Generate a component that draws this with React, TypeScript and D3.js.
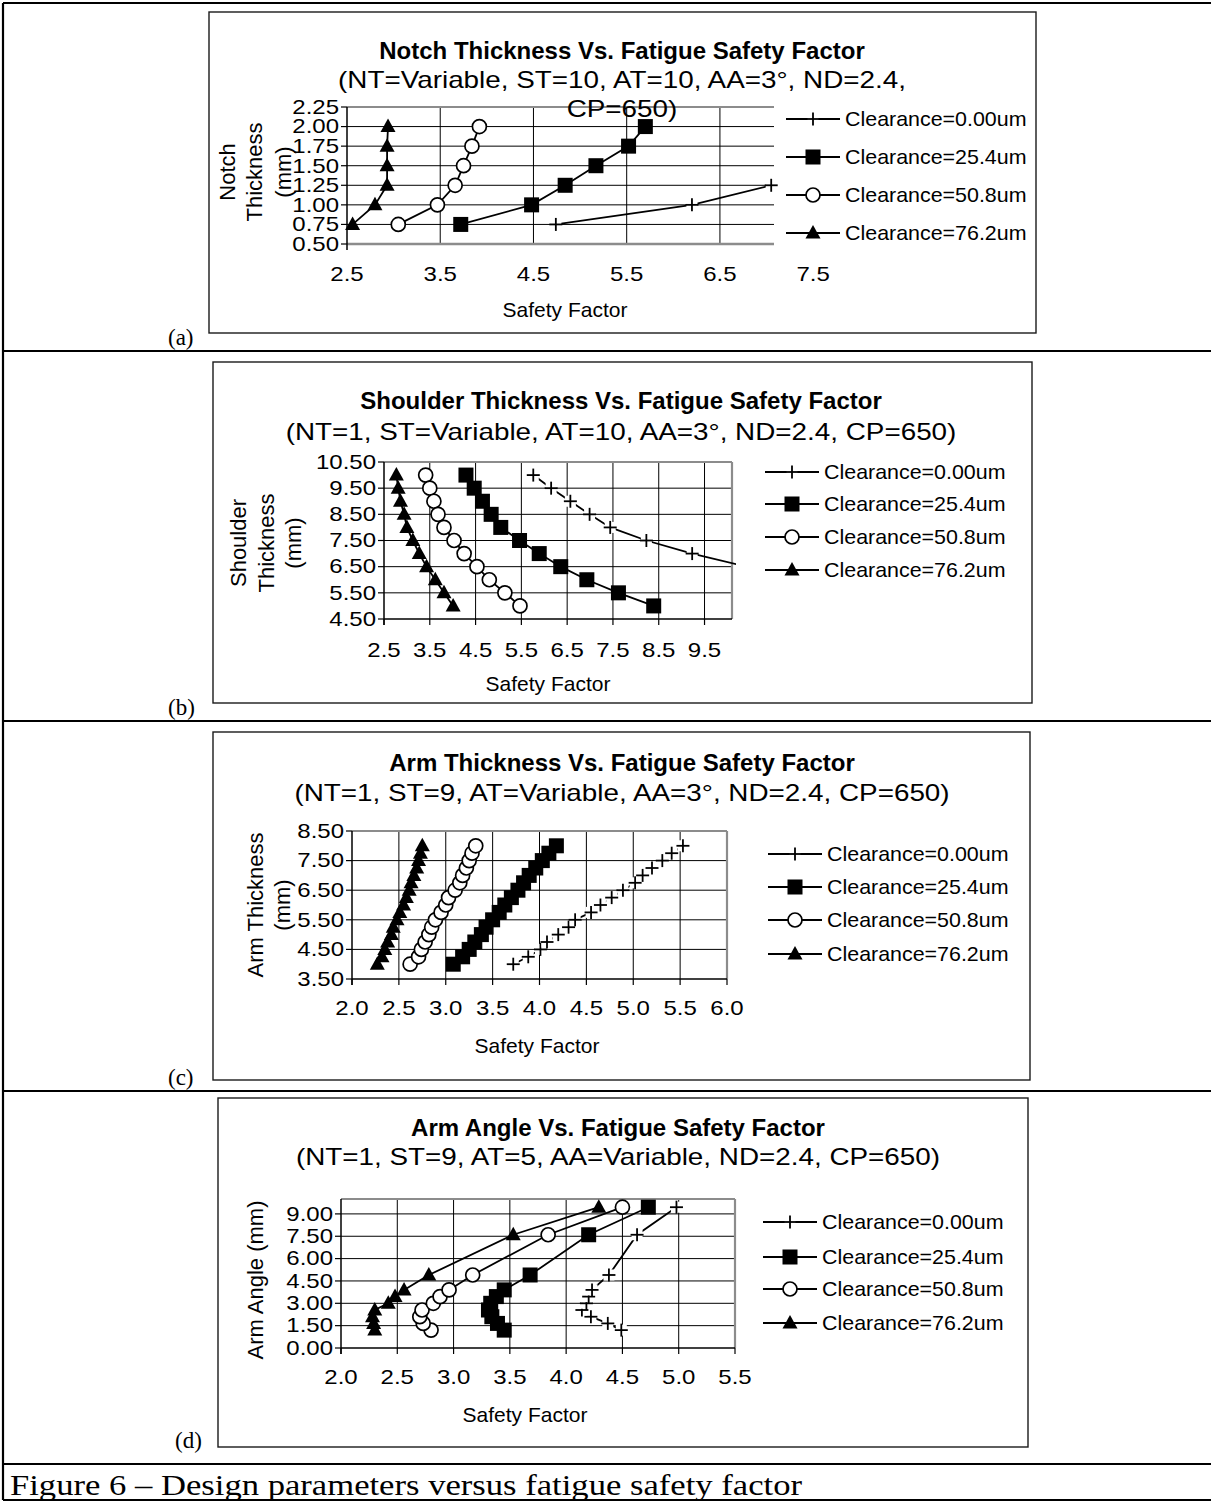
import React from 'react';
import * as d3 from 'd3';

// ---------- shared ----------
const seriesNames = ['Clearance=0.00um', 'Clearance=25.4um', 'Clearance=50.8um', 'Clearance=76.2um'];
const markerKinds = ['plus', 'square', 'circle', 'triangle'];
const panelLetters = ['(a)', '(b)', '(c)', '(d)'];
const captionText = 'Figure 6 \u2013 Design parameters versus fatigue safety factor';

// ---------- (a) Notch thickness ----------
const notchTitle = 'Notch Thickness Vs. Fatigue Safety Factor';
const notchSubtitle = ['(NT=Variable, ST=10, AT=10, AA=3\u00b0, ND=2.4,', 'CP=650)'];
const notchYLabel = ['Notch', 'Thickness', '(mm)'];
const notchThick = [0.75, 1.0, 1.25, 1.5, 1.75, 2.0];
const notchThick000 = [0.75, 1.0, 1.25];
const notchSF000 = [4.74, 6.2, 7.05];
const notchSF254 = [3.72, 4.48, 4.84, 5.17, 5.52, 5.7];
const notchSF508 = [3.05, 3.47, 3.66, 3.75, 3.84, 3.92];
const notchSF762 = [2.56, 2.8, 2.93, 2.93, 2.93, 2.94];
const notchXTicks = [2.5, 3.5, 4.5, 5.5, 6.5, 7.5];
const notchYTicks = [0.5, 0.75, 1.0, 1.25, 1.5, 1.75, 2.0, 2.25];

// ---------- (b) Shoulder thickness ----------
const shoulderTitle = 'Shoulder Thickness Vs. Fatigue Safety Factor';
const shoulderSubtitle = ['(NT=1, ST=Variable, AT=10, AA=3\u00b0, ND=2.4, CP=650)'];
const shoulderYLabel = ['Shoulder', 'Thickness', '(mm)'];
const shoulderThick = [10, 9.5, 9, 8.5, 8, 7.5, 7, 6.5, 6, 5.5, 5];
const shoulderThick000 = [10, 9.5, 9, 8.5, 8, 7.5, 7, 6.5];
const shoulderSF000 = [5.76, 6.15, 6.57, 6.99, 7.44, 8.23, 9.23, 10.42];
const shoulderSF254 = [4.29, 4.47, 4.65, 4.84, 5.05, 5.46, 5.89, 6.36, 6.93, 7.62, 8.39];
const shoulderSF508 = [3.41, 3.5, 3.59, 3.68, 3.81, 4.03, 4.25, 4.53, 4.8, 5.14, 5.47];
const shoulderSF762 = [2.77, 2.81, 2.86, 2.94, 3.0, 3.13, 3.27, 3.43, 3.62, 3.81, 4.01];
const shoulderXTicks = [2.5, 3.5, 4.5, 5.5, 6.5, 7.5, 8.5, 9.5];
const shoulderYTicks = [4.5, 5.5, 6.5, 7.5, 8.5, 9.5, 10.5];

// ---------- (c) Arm thickness ----------
const armTitle = 'Arm Thickness Vs. Fatigue Safety Factor';
const armSubtitle = ['(NT=1, ST=9, AT=Variable, AA=3\u00b0, ND=2.4, CP=650)'];
const armYLabel = ['Arm Thickness', '(mm)'];
const armThick = [4.0, 4.25, 4.5, 4.75, 5.0, 5.25, 5.5, 5.75, 6.0, 6.25, 6.5, 6.75, 7.0, 7.25, 7.5, 7.75, 8.0];
const armSF000 = [3.72, 3.88, 4.01, 4.08, 4.2, 4.31, 4.38, 4.55, 4.65, 4.77, 4.89, 5.02, 5.1, 5.2, 5.31, 5.41, 5.53];
const armSF254 = [3.08, 3.18, 3.25, 3.31, 3.38, 3.43, 3.5, 3.57, 3.63, 3.7, 3.77, 3.83, 3.89, 3.96, 4.03, 4.1, 4.18];
const armSF508 = [2.62, 2.71, 2.74, 2.78, 2.82, 2.85, 2.89, 2.95, 3.0, 3.03, 3.1, 3.15, 3.18, 3.22, 3.25, 3.28, 3.32];
const armSF762 = [2.27, 2.32, 2.35, 2.38, 2.42, 2.44, 2.48, 2.51, 2.55, 2.58, 2.61, 2.63, 2.66, 2.69, 2.71, 2.73, 2.75];
const armXTicks = [2.0, 2.5, 3.0, 3.5, 4.0, 4.5, 5.0, 5.5, 6.0];
const armYTicks = [3.5, 4.5, 5.5, 6.5, 7.5, 8.5];

// ---------- (d) Arm angle ----------
const angleTitle = 'Arm Angle Vs. Fatigue Safety Factor';
const angleSubtitle = ['(NT=1, ST=9, AT=5, AA=Variable, ND=2.4, CP=650)'];
const angleYLabel = ['Arm Angle (mm)'];
const angleVal = [1.2, 1.65, 2.1, 2.55, 3.0, 3.45, 3.9, 4.9, 7.6, 9.45];
const angleSF000 = [4.49, 4.37, 4.22, 4.14, 4.18, 4.2, 4.23, 4.38, 4.63, 4.98];
const angleSF254 = [3.45, 3.39, 3.34, 3.31, 3.33, 3.38, 3.45, 3.68, 4.2, 4.73];
const angleSF508 = [2.8, 2.73, 2.7, 2.72, 2.82, 2.88, 2.96, 3.17, 3.84, 4.5];
const angleSF762 = [2.3, 2.29, 2.28, 2.3, 2.42, 2.48, 2.56, 2.78, 3.53, 4.29];
const angleXTicks = [2.0, 2.5, 3.0, 3.5, 4.0, 4.5, 5.0, 5.5];
const angleYTicks = [0, 1.5, 3.0, 4.5, 6.0, 7.5, 9.0];

const SANS = "'Liberation Sans', Arial, Helvetica, sans-serif";
const SERIF = "'Liberation Serif', 'Times New Roman', serif";

function T({
  x,
  y,
  size,
  sx = 1,
  anchor = 'start',
  weight = 'normal',
  rotate = 0,
  family = SANS,
  children,
}: {
  x: number;
  y: number;
  size: number;
  sx?: number;
  anchor?: string;
  weight?: string;
  rotate?: number;
  family?: string;
  children: React.ReactNode;
}) {
  return (
    <text
      transform={`translate(${x},${y}) rotate(${rotate}) scale(${sx},1)`}
      fontSize={size}
      fontFamily={family}
      fontWeight={weight}
      textAnchor={anchor}
      dominantBaseline="central"
      fill="#000"
    >
      {children}
    </text>
  );
}

function Marker({ kind, x, y }: { kind: string; x: number; y: number }) {
  if (kind === 'plus') {
    return (
      <g transform={`translate(${x},${y})`}>
        <rect x={-5.5} y={-5.5} width={11} height={11} fill="#fff" />
        <line x1={-6.5} x2={6.5} y1={0} y2={0} stroke="#000" strokeWidth={1.8} />
        <line x1={0} x2={0} y1={-6.5} y2={6.5} stroke="#000" strokeWidth={1.8} />
      </g>
    );
  }
  if (kind === 'square') {
    return <rect x={x - 7.5} y={y - 7.5} width={15} height={15} fill="#000" />;
  }
  if (kind === 'circle') {
    return <circle cx={x} cy={y} r={7} fill="#fff" stroke="#000" strokeWidth={1.7} />;
  }
  return <path d={`M${x},${y - 8}L${x + 7.5},${y + 5.5}L${x - 7.5},${y + 5.5}Z`} fill="#000" />;
}

type ChartSpec = {
  id: string;
  box: [number, number, number, number];
  plot: { l: number; r: number; t: number; b: number };
  xDomain: [number, number];
  yDomain: [number, number];
  xTicks: number[];
  yTicks: number[];
  series: { xs: number[]; ys: number[] }[];
  title: string;
  titleY: number;
  titleX: number;
  subtitle: string[];
  subtitleY: number[];
  yLabel: string[];
  yLabelX: number[];
  yLabelCY: number;
  xTitleX: number;
  xTitleY: number;
  xLabelY: number;
  legendX: number;
  legendY: number[];
  grayBottom: boolean;
  rightBorder: boolean;
  xTickMarks: boolean;
};

const f1 = d3.format('.1f');
const f2 = d3.format('.2f');

function Chart({ s }: { s: ChartSpec }) {
  const x = d3.scaleLinear().domain(s.xDomain).range([s.plot.l, s.plot.r]);
  const y = d3.scaleLinear().domain(s.yDomain).range([s.plot.b, s.plot.t]);
  const line = d3
    .line<[number, number]>()
    .x((d) => x(d[0]))
    .y((d) => y(d[1]));
  const [bx0, by0, bx1, by1] = s.box;
  const clipId = `clip-${s.id}`;
  const gray = '#8c8c8c';
  return (
    <g>
      <defs>
        <clipPath id={clipId}>
          <rect x={s.plot.l - 10} y={s.plot.t - 10} width={s.plot.r - s.plot.l + 14} height={s.plot.b - s.plot.t + 20} />
        </clipPath>
      </defs>
      <rect x={bx0} y={by0} width={bx1 - bx0} height={by1 - by0} fill="#fff" stroke="#1a1a1a" strokeWidth={1.4} />
      {s.yTicks.map((t, i) => {
        const py = y(t);
        if (Math.abs(py - s.plot.t) < 1 || Math.abs(py - s.plot.b) < 1) return null;
        return <line key={`hg${i}`} x1={s.plot.l} x2={s.plot.r} y1={py} y2={py} stroke="#000" strokeWidth={1} />;
      })}
      {s.xTicks.map((t, i) => {
        const px = x(t);
        if (px <= s.plot.l + 1 || px >= s.plot.r - 1) return null;
        return <line key={`vg${i}`} x1={px} x2={px} y1={s.plot.t} y2={s.plot.b} stroke="#000" strokeWidth={1} />;
      })}
      <line x1={s.plot.l} x2={s.plot.r} y1={s.plot.t} y2={s.plot.t} stroke={gray} strokeWidth={2.2} />
      {s.rightBorder && <line x1={s.plot.r} x2={s.plot.r} y1={s.plot.t} y2={s.plot.b} stroke={gray} strokeWidth={2.2} />}
      <line
        x1={s.plot.l}
        x2={s.plot.r}
        y1={s.plot.b}
        y2={s.plot.b}
        stroke={s.grayBottom ? gray : '#000'}
        strokeWidth={s.grayBottom ? 2.4 : 1.4}
      />
      <line x1={s.plot.l} x2={s.plot.l} y1={s.plot.t} y2={s.plot.b + 6} stroke="#000" strokeWidth={1.5} />
      {s.yTicks.map((t, i) => (
        <line key={`yt${i}`} x1={s.plot.l - 6} x2={s.plot.l} y1={y(t)} y2={y(t)} stroke="#000" strokeWidth={1.2} />
      ))}
      {s.xTickMarks &&
        s.xTicks.map((t, i) =>
          x(t) <= s.plot.r + 1 ? (
            <line key={`xt${i}`} x1={x(t)} x2={x(t)} y1={s.plot.b} y2={s.plot.b + 6} stroke="#000" strokeWidth={1.2} />
          ) : null
        )}
      {s.yTicks.map((t, i) => (
        <T key={`yl${i}`} x={s.plot.l - 8} y={y(t)} size={20} sx={1.2} anchor="end">
          {f2(t)}
        </T>
      ))}
      {s.xTicks.map((t, i) => (
        <T key={`xl${i}`} x={x(t)} y={s.xLabelY} size={20} sx={1.2} anchor="middle">
          {f1(t)}
        </T>
      ))}
      <g clipPath={`url(#${clipId})`}>
        {s.series.map((sr, si) => {
          const pts: [number, number][] = sr.xs.map((v, k) => [v, sr.ys[k]]);
          return (
            <g key={`s${si}`}>
              <path d={line(pts) || ''} fill="none" stroke="#000" strokeWidth={1.8} />
              {pts.map((p, k) => (
                <Marker key={k} kind={markerKinds[si]} x={x(p[0])} y={y(p[1])} />
              ))}
            </g>
          );
        })}
      </g>
      <T x={s.titleX} y={s.titleY} size={24} weight="bold" anchor="middle">
        {s.title}
      </T>
      {s.subtitle.map((t, i) => (
        <T key={`st${i}`} x={s.titleX} y={s.subtitleY[i]} size={24} sx={1.16} anchor="middle">
          {t}
        </T>
      ))}
      {s.yLabel.map((t, i) => (
        <T key={`ylab${i}`} x={s.yLabelX[i]} y={s.yLabelCY} size={22} rotate={-90} anchor="middle">
          {t}
        </T>
      ))}
      <T x={s.xTitleX} y={s.xTitleY} size={20} sx={1.05} anchor="middle">
        Safety Factor
      </T>
      {seriesNames.map((n, i) => (
        <g key={`lg${i}`}>
          <line x1={s.legendX} x2={s.legendX + 54} y1={s.legendY[i]} y2={s.legendY[i]} stroke="#000" strokeWidth={1.8} />
          <Marker kind={markerKinds[i]} x={s.legendX + 27} y={s.legendY[i]} />
          <T x={s.legendX + 59} y={s.legendY[i]} size={21} sx={1.02}>
            {n}
          </T>
        </g>
      ))}
    </g>
  );
}

const charts: ChartSpec[] = [
  {
    id: 'a',
    box: [209, 12, 1036, 333],
    plot: { l: 347, r: 774, t: 107, b: 244 },
    xDomain: [2.5, 7.08],
    yDomain: [0.5, 2.25],
    xTicks: notchXTicks,
    yTicks: notchYTicks,
    series: [
      { xs: notchSF000, ys: notchThick000 },
      { xs: notchSF254, ys: notchThick },
      { xs: notchSF508, ys: notchThick },
      { xs: notchSF762, ys: notchThick },
    ],
    title: notchTitle,
    titleX: 622,
    titleY: 50,
    subtitle: notchSubtitle,
    subtitleY: [80, 109],
    yLabel: notchYLabel,
    yLabelX: [227, 254, 283],
    yLabelCY: 172,
    xTitleX: 565,
    xTitleY: 310,
    xLabelY: 274,
    legendX: 786,
    legendY: [119, 157, 195, 233],
    grayBottom: true,
    rightBorder: false,
    xTickMarks: false,
  },
  {
    id: 'b',
    box: [213, 362, 1032, 703],
    plot: { l: 384, r: 732, t: 462, b: 619 },
    xDomain: [2.5, 10.1],
    yDomain: [4.5, 10.5],
    xTicks: shoulderXTicks,
    yTicks: shoulderYTicks,
    series: [
      { xs: shoulderSF000, ys: shoulderThick000 },
      { xs: shoulderSF254, ys: shoulderThick },
      { xs: shoulderSF508, ys: shoulderThick },
      { xs: shoulderSF762, ys: shoulderThick },
    ],
    title: shoulderTitle,
    titleX: 621,
    titleY: 400,
    subtitle: shoulderSubtitle,
    subtitleY: [432],
    yLabel: shoulderYLabel,
    yLabelX: [238, 266, 293],
    yLabelCY: 543,
    xTitleX: 548,
    xTitleY: 684,
    xLabelY: 650,
    legendX: 765,
    legendY: [472, 504, 537, 570],
    grayBottom: false,
    rightBorder: true,
    xTickMarks: true,
  },
  {
    id: 'c',
    box: [213, 732, 1030, 1080],
    plot: { l: 352, r: 727, t: 831, b: 979 },
    xDomain: [2.0, 6.0],
    yDomain: [3.5, 8.5],
    xTicks: armXTicks,
    yTicks: armYTicks,
    series: [
      { xs: armSF000, ys: armThick },
      { xs: armSF254, ys: armThick },
      { xs: armSF508, ys: armThick },
      { xs: armSF762, ys: armThick },
    ],
    title: armTitle,
    titleX: 622,
    titleY: 762,
    subtitle: armSubtitle,
    subtitleY: [793],
    yLabel: armYLabel,
    yLabelX: [255, 282],
    yLabelCY: 905,
    xTitleX: 537,
    xTitleY: 1046,
    xLabelY: 1008,
    legendX: 768,
    legendY: [854, 887, 920, 954],
    grayBottom: false,
    rightBorder: true,
    xTickMarks: true,
  },
  {
    id: 'd',
    box: [218, 1098, 1028, 1447],
    plot: { l: 341, r: 735, t: 1199, b: 1348 },
    xDomain: [2.0, 5.5],
    yDomain: [0, 10],
    xTicks: angleXTicks,
    yTicks: angleYTicks,
    series: [
      { xs: angleSF000, ys: angleVal },
      { xs: angleSF254, ys: angleVal },
      { xs: angleSF508, ys: angleVal },
      { xs: angleSF762, ys: angleVal },
    ],
    title: angleTitle,
    titleX: 618,
    titleY: 1127,
    subtitle: angleSubtitle,
    subtitleY: [1157],
    yLabel: angleYLabel,
    yLabelX: [255],
    yLabelCY: 1280,
    xTitleX: 525,
    xTitleY: 1415,
    xLabelY: 1377,
    legendX: 763,
    legendY: [1222, 1257, 1289, 1323],
    grayBottom: false,
    rightBorder: true,
    xTickMarks: true,
  },
];

const rowLines = [3, 351, 721, 1091, 1464, 1500];
const panelLabelPos: [number, number][] = [
  [168, 337],
  [168, 707],
  [168, 1077],
  [175, 1440],
];

export default function App() {
  return (
    <svg
      width={1211}
      height={1502}
      viewBox="0 0 1211 1502"
      style={{ position: 'absolute', left: 0, top: 0, background: '#fff' }}
    >
      <rect x={0} y={0} width={1211} height={1502} fill="#fff" />
      {charts.map((c) => (
        <Chart key={c.id} s={c} />
      ))}
      {rowLines.map((yy, i) => (
        <line key={`r${i}`} x1={3} x2={1211} y1={yy} y2={yy} stroke="#000" strokeWidth={2.2} />
      ))}
      <line x1={3} x2={3} y1={3} y2={1500} stroke="#000" strokeWidth={2.2} />
      {panelLetters.map((t, i) => (
        <T key={t} x={panelLabelPos[i][0]} y={panelLabelPos[i][1]} size={23} family={SERIF}>
          {t}
        </T>
      ))}
      <text
        x={10}
        y={1484}
        fontSize={30}
        fontFamily={SERIF}
        dominantBaseline="central"
        textLength={792}
        lengthAdjust="spacingAndGlyphs"
      >
        {captionText}
      </text>
    </svg>
  );
}
